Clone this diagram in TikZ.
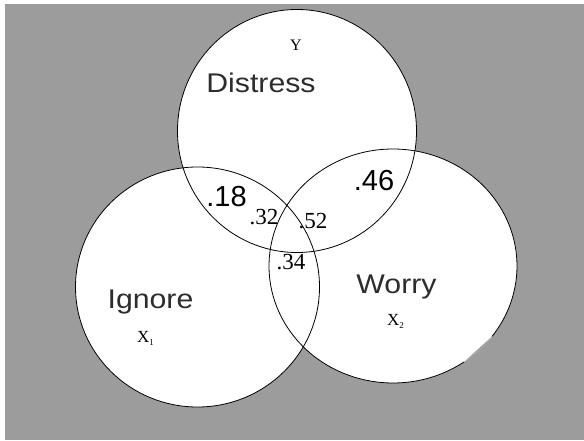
\documentclass[tikz,border=0pt]{standalone}
\usepackage{fontspec}
\setmainfont{Liberation Serif}
\newfontfamily\labelfont{Liberation Sans}
\definecolor{bggray}{RGB}{156,156,156}
\definecolor{labelgray}{RGB}{45,45,45}
\begin{document}
\begin{tikzpicture}[x=1pt,y=-1pt,
  venn/.style={draw=black, line width=0.8pt},
  bigword/.style={font=\labelfont\fontsize{27}{30}\selectfont, text=labelgray, inner sep=0pt, anchor=base},
  bignum/.style={font=\labelfont\fontsize{29}{32}\selectfont, text=black, inner sep=0pt, anchor=base},
  smallnum/.style={font=\fontsize{23}{26}\selectfont, text=black, inner sep=0pt, anchor=base},
  varname/.style={font=\fontsize{17}{20}\selectfont, text=black, inner sep=0pt, anchor=base west}]
\useasboundingbox (0,0) rectangle (584,441);
\fill[white] (0,0) rectangle (584,441);
\fill[bggray] (5,4) rectangle (584,439.5);
% white fills
\fill[white] (297,131) ellipse [x radius=119.5, y radius=121.5];
\fill[white] (197.5,287) ellipse [x radius=122, y radius=120];
\fill[white] (393,266) ellipse [x radius=124, y radius=117];
% cut of the Worry circle (lower right)
\fill[bggray] (393,266) ++(37:124 and 117) arc [start angle=37, end angle=55, x radius=124, y radius=117] -- cycle;
% outlines
\draw[venn] (297,131) ellipse [x radius=119.5, y radius=121.5];
\draw[venn] (197.5,287) ellipse [x radius=122, y radius=120];
\draw[venn] (393,266) ++(55:124 and 117) arc [start angle=55, end angle=397, x radius=124, y radius=117];
% labels
\node[bigword] (distress) at (261,93) {\scalebox{1.12}[1]{Distress}};
\node[bigword] (ignore) at (150.5,308) {\scalebox{1.12}[1]{Ignore}};
\node[bigword] (worry) at (396.5,293) {\scalebox{1.12}[1]{Worry}};
\node[font=\fontsize{16}{18}\selectfont, inner sep=0pt, anchor=base] (y) at (296,50.5) {Y};
\node[varname] (x1) at (137,342) {X\raisebox{-3pt}{\fontsize{9}{9}\selectfont 1}};
\node[varname] (x2) at (387,325.5) {X\raisebox{-3pt}{\fontsize{9}{9}\selectfont 2}};
\node[bignum] (n18) at (226.5,207) {.18};
\node[bignum] (n46) at (374,190) {.46};
\node[smallnum] (n32) at (264,224) {.32};
\node[smallnum] (n52) at (313,228.3) {.52};
\node[smallnum] (n34) at (291,269.3) {.34};
\end{tikzpicture}
\end{document}
